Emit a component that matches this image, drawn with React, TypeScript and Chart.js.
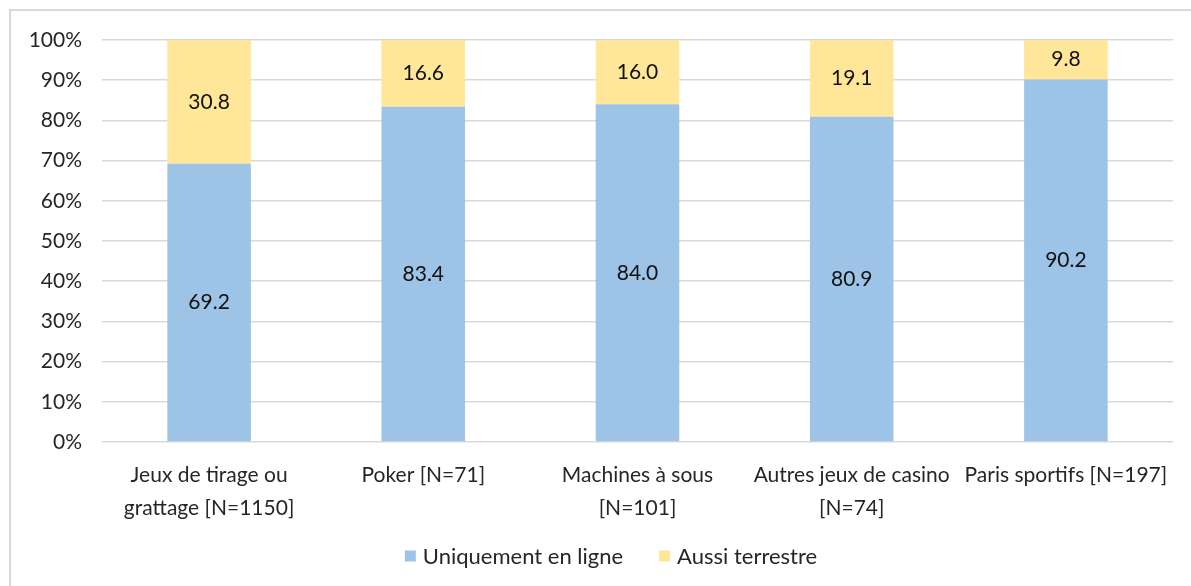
import React, { useEffect, useRef } from "react";
import { Chart, registerables } from "chart.js";

Chart.register(...registerables);

const categories: string[][] = [
  ["Jeux de tirage ou", "grattage [N=1150]"],
  ["Poker [N=71]"],
  ["Machines à sous", "[N=101]"],
  ["Autres jeux de casino", "[N=74]"],
  ["Paris sportifs [N=197]"],
];
const onlineOnly = [69.2, 83.4, 84.0, 80.9, 90.2];
const alsoLand = [30.8, 16.6, 16.0, 19.1, 9.8];
const seriesNames = ["Uniquement en ligne", "Aussi terrestre"];
const seriesColors = ["#9DC3E6", "#FFE699"];
const yTicks = [0, 10, 20, 30, 40, 50, 60, 70, 80, 90, 100];

const FONT = "Lato, sans-serif";
const TXT = "#262626";
const FS = 21;

const valueLabels = {
  id: "valueLabels",
  afterDatasetsDraw(chart: any) {
    const ctx = chart.ctx;
    ctx.save();
    ctx.font = `${FS}px ${FONT}`;
    ctx.fillStyle = "#111";
    ctx.textAlign = "center";
    ctx.textBaseline = "middle";
    chart.data.datasets.forEach((ds: any, di: number) => {
      const meta = chart.getDatasetMeta(di);
      meta.data.forEach((bar: any, i: number) => {
        const p = bar.getProps(["x", "y", "base"], true);
        ctx.fillText(ds.data[i].toFixed(1), p.x, (p.y + p.base) / 2);
      });
    });
    ctx.restore();
  },
};

const customLegend = {
  id: "customLegend",
  afterDraw(chart: any) {
    const ctx = chart.ctx;
    ctx.save();
    ctx.font = `22px ${FONT}`;
    ctx.textBaseline = "middle";
    ctx.textAlign = "left";
    const box = 11, gap = 7, spacing = 36;
    const items = chart.data.datasets.map((ds: any) => ({ text: ds.label, color: ds.backgroundColor, w: ctx.measureText(ds.label).width }));
    const total = items.reduce((a: number, it: any) => a + box + gap + it.w, 0) + spacing * (items.length - 1);
    const cy = 556;
    let x = 611 - total / 2;
    items.forEach((it: any) => {
      ctx.fillStyle = it.color;
      ctx.fillRect(x, cy - box / 2, box, box);
      x += box + gap;
      ctx.fillStyle = TXT;
      ctx.fillText(it.text, x, cy + 1);
      x += it.w + spacing;
    });
    ctx.restore();
  },
};

export default function App() {
  const ref = useRef<HTMLCanvasElement>(null);
  useEffect(() => {
    document.body.style.margin = "0";
    const chart = new Chart(ref.current!, {
      type: "bar",
      data: {
        labels: categories,
        datasets: [
          { label: seriesNames[0], data: onlineOnly, backgroundColor: seriesColors[0], categoryPercentage: 1, barPercentage: 0.39 },
          { label: seriesNames[1], data: alsoLand, backgroundColor: seriesColors[1], categoryPercentage: 1, barPercentage: 0.39 },
        ],
      },
      options: {
        animation: false,
        responsive: false,
        layout: { padding: { left: 0, right: 18, top: 40, bottom: 0 } },
        scales: {
          x: {
            stacked: true,
            grid: { display: false },
            border: { display: false },
            ticks: { color: TXT, font: { family: FONT, size: FS, lineHeight: 1.55 }, maxRotation: 0, autoSkip: false, padding: 9 },
            afterFit: (s: any) => { s.height = 144; },
          },
          y: {
            stacked: true,
            min: 0,
            max: 100,
            afterBuildTicks: (s: any) => { s.ticks = yTicks.map((v) => ({ value: v })); },
            grid: { color: "#d9d9d9", lineWidth: 1.5, drawTicks: false },
            border: { display: false },
            ticks: { color: TXT, font: { family: FONT, size: FS }, padding: 20, callback: (v: any) => v + "%" },
            afterFit: (s: any) => { s.width = 102; },
          },
        },
        plugins: {
          legend: { display: false },
          tooltip: { enabled: false },
        },
      },
      plugins: [valueLabels, customLegend],
    });
    return () => chart.destroy();
  }, []);
  return (
    <div style={{ position: "relative", width: 1191, height: 586 }}>
      <canvas ref={ref} width={1191} height={586} style={{ position: "absolute", left: 0, top: 0 }} />
      <div style={{ position: "absolute", left: 9, top: 9, width: 1200, height: 600, border: "2px solid #d9d9d9", pointerEvents: "none" }} />
    </div>
  );
}
